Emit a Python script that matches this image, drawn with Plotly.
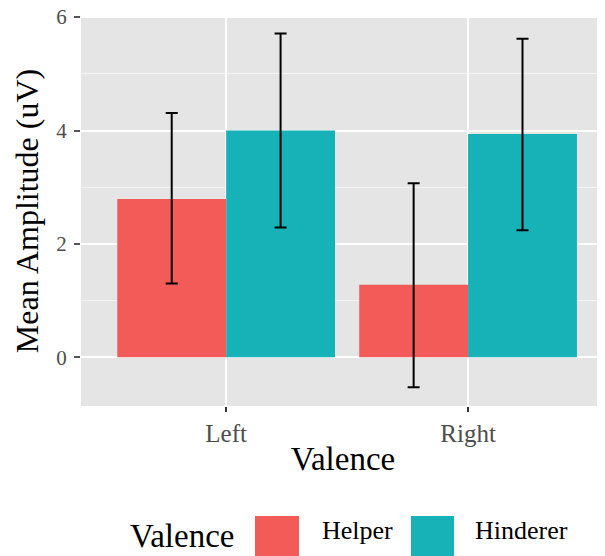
import plotly.graph_objects as go

categories = ["Left", "Right"]
groups = ["Helper", "Hinderer"]
helper_mean = [2.79, 1.28]
helper_upper = [4.31, 3.07]
helper_lower = [1.30, -0.53]
hinderer_mean = [4.00, 3.94]
hinderer_upper = [5.71, 5.62]
hinderer_lower = [2.29, 2.24]
colors = ["#F35B59", "#17B2B7"]
y_ticks = [0, 2, 4, 6]

FONT = "Liberation Serif"
OFF = 8  # default page body margin
W, H = 605 - OFF, 556 - OFF
L, R, T, B = 81 - OFF, 0, 16 - OFF, 556 - 406
plot_h = H - T - B

fig = go.Figure()
series = [
    (groups[0], helper_mean, helper_upper, helper_lower, colors[0]),
    (groups[1], hinderer_mean, hinderer_upper, hinderer_lower, colors[1]),
]
for name, mean, up, lo, col in series:
    fig.add_trace(go.Bar(
        x=categories, y=mean, name=name,
        marker=dict(color=col, line=dict(width=0)),
        error_y=dict(type="data", symmetric=False,
                     array=[u - m for u, m in zip(up, mean)],
                     arrayminus=[m - l for m, l in zip(mean, lo)],
                     color="black", thickness=2, width=6),
        showlegend=False,
    ))

fig.update_layout(
    width=W, height=H,
    margin=dict(l=L, r=R, t=T, b=B, pad=0, autoexpand=False),
    paper_bgcolor="white", plot_bgcolor="#E5E5E5",
    barmode="group", bargap=0.1, bargroupgap=0,
    font=dict(family=FONT, color="black"),
)
fig.update_xaxes(
    range=[-0.6, 1.566], showgrid=True, gridcolor="white", gridwidth=1.5,
    ticks="outside", ticklen=5, tickwidth=1.5, tickcolor="#333333",
    tickfont=dict(family=FONT, size=25, color="#4D4D4D"),
    title=dict(text="Valence", font=dict(family=FONT, size=33, color="black"), standoff=0),
    zeroline=False, showline=False, automargin=False,
)
fig.update_yaxes(
    range=[-0.86, 6.02], tickvals=y_ticks, showgrid=True, gridcolor="white", gridwidth=2,
    minor=dict(dtick=1, tick0=0, showgrid=True, gridcolor="#F4F4F4", gridwidth=1, ticks=""),
    ticks="outside", ticklen=6, tickwidth=1.5, tickcolor="#555555",
    ticklabelstandoff=3, ticklabeloverflow="allow",
    tickfont=dict(family=FONT, size=21, color="#4D4D4D"),
    title=dict(text="Mean Amplitude (uV)", font=dict(family=FONT, size=32, color="black"), standoff=8),
    zeroline=False, showline=False, automargin=False,
)

def py(p):
    # page pixel row -> paper y
    return (H - B - (p - OFF)) / plot_h

def px(p):
    # page pixel column -> paper x
    return (p - OFF - L) / (W - L - R)

# manual legend (ggplot-style large keys)
key_boxes = [(255, 299), (411, 454)]
label_x = [320, 473]
for (x0, x1), col, lab, lx in zip(key_boxes, colors, groups, label_x):
    fig.add_shape(type="rect", xref="paper", yref="paper",
                  x0=px(x0), x1=px(x1), y0=py(560), y1=py(516),
                  fillcolor=col, line=dict(width=0))
    fig.add_annotation(text=lab, xref="paper", yref="paper", x=px(lx), y=py(530),
                       xanchor="left", yanchor="middle", showarrow=False,
                       font=dict(family=FONT, size=26, color="black"))
fig.add_annotation(text="Valence", xref="paper", yref="paper", x=px(128), y=py(536),
                   xanchor="left", yanchor="middle", showarrow=False,
                   font=dict(family=FONT, size=33, color="black"))

fig.write_html("out.html")
